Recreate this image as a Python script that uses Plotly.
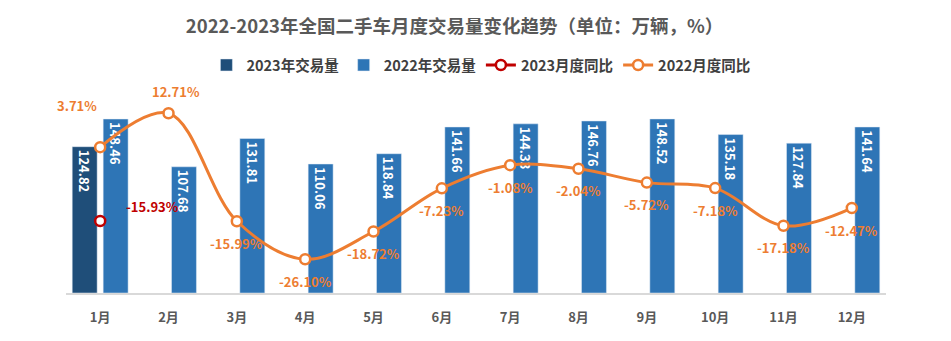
import plotly.graph_objects as go

months = ['1月', '2月', '3月', '4月', '5月', '6月', '7月', '8月', '9月', '10月', '11月', '12月']
vol_2023 = [124.82, None, None, None, None, None, None, None, None, None, None, None]
vol_2022 = [148.46, 107.68, 131.81, 110.06, 118.84, 141.66, 144.33, 146.76, 148.52, 135.18, 127.84, 141.64]
yoy_2023 = [-15.93, None, None, None, None, None, None, None, None, None, None, None]
yoy_2022 = [3.71, 12.71, -15.99, -26.10, -18.72, -7.23, -1.08, -2.04, -5.72, -7.18, -17.18, -12.47]

FONT = "Noto Sans CJK SC"
ORANGE = "#ED7D31"
RED = "#C00000"

fig = go.Figure()
fig.add_trace(go.Bar(
    x=months, y=vol_2023, name='2023年交易量', marker_color='#1F4E79',
    texttemplate='%{y:.2f}', textposition='inside', insidetextanchor='end', textangle=90,
    textfont=dict(color='white', size=13, family=FONT, weight=700), constraintext='none'))
fig.add_trace(go.Bar(
    x=months, y=vol_2022, name='2022年交易量', marker_color='#2E75B6',
    texttemplate='%{y:.2f}', textposition='inside', insidetextanchor='end', textangle=90,
    textfont=dict(color='white', size=13, family=FONT, weight=700), constraintext='none'))
fig.add_trace(go.Scatter(
    x=months, y=yoy_2023, name='2023月度同比', yaxis='y2', mode='lines+markers',
    line=dict(color=RED, width=3),
    marker=dict(size=10, color='white', line=dict(color=RED, width=2.5))))
fig.add_trace(go.Scatter(
    x=months, y=yoy_2022, name='2022月度同比', yaxis='y2', mode='lines+markers',
    line=dict(color=ORANGE, width=3, shape='spline', smoothing=1.0),
    marker=dict(size=10, color='white', line=dict(color=ORANGE, width=2.5))))

# label offsets (px) for the line value labels
shifts_2022 = [(-23, 42), (7, 22)] + [(0, -22)] * 10
annotations = []
for m, v, (dx, dy) in zip(months, yoy_2022, shifts_2022):
    annotations.append(dict(x=m, y=v, xref='x', yref='y2', text=f'{v:.2f}%', showarrow=False,
                            xshift=dx, yshift=dy,
                            font=dict(color=ORANGE, size=13, family=FONT, weight=700)))
for m, v in zip(months, yoy_2023):
    if v is not None:
        annotations.append(dict(x=m, y=v, xref='x', yref='y2', text=f'{v:.2f}%', showarrow=False,
                                xshift=52, yshift=15,
                                font=dict(color=RED, size=13, family=FONT, weight=700)))

fig.update_layout(
    width=951, height=341,
    margin=dict(l=66, r=65, t=90, b=48),
    paper_bgcolor='white', plot_bgcolor='white',
    font=dict(family=FONT),
    title=dict(text='2022-2023年全国二手车月度交易量变化趋势（单位：万辆，%）',
               x=0.478, xanchor='center', y=1 - 27 / 341, yanchor='middle',
               font=dict(size=18.5, color='#595959', family=FONT, weight=700)),
    barmode='group', bargap=0.094, bargroupgap=0.194,
    showlegend=True,
    legend=dict(orientation='h', x=0.506, xanchor='center', y=1.123, yanchor='middle',
                font=dict(size=14.5, color='#404040', family=FONT, weight=700),
                bgcolor='rgba(0,0,0,0)'),
    xaxis=dict(range=[-0.5, 11.5], showline=True, linecolor='#D9D9D9', linewidth=1.5, showgrid=False,
               ticks='', ticklabelstandoff=12,
               tickfont=dict(size=13, color='#595959', family=FONT, weight=700)),
    yaxis=dict(range=[0, 173.2], visible=False, showgrid=False),
    yaxis2=dict(range=[-35.06, 18.9], overlaying='y', side='right', visible=False, showgrid=False),
    annotations=annotations,
)

fig.write_html("out.html")
